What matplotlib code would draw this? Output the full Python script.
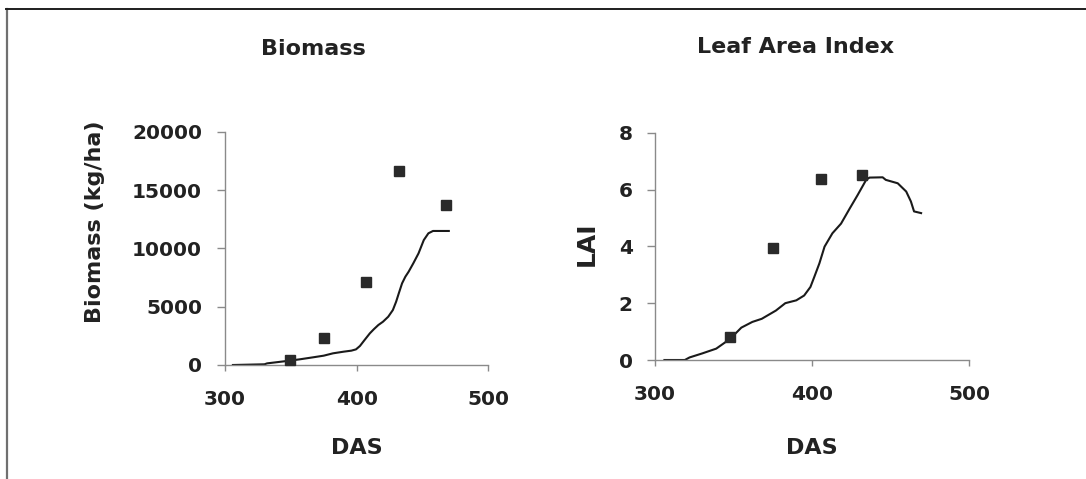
import matplotlib
matplotlib.use("Agg")
import matplotlib.pyplot as plt
from matplotlib.lines import Line2D

# ---- data ----
bio_sim_das = [306, 330, 332, 349, 357, 367, 375, 382, 390, 396, 399.5, 402.5, 406, 410,
               413, 416.5, 420, 424, 427.5, 430, 432, 434.5, 437, 439.5, 443, 447,
               451, 454.5, 458, 470]
bio_sim_val = [0, 60, 140, 370, 490, 660, 800, 1000, 1140, 1230, 1340, 1630, 2140, 2710,
               3060, 3430, 3710, 4140, 4710, 5430, 6140, 7000, 7570, 8000, 8710, 9570,
               10710, 11290, 11490, 11490]
bio_obs_das = [349, 375, 407, 432, 468]
bio_obs_val = [430, 2300, 7100, 16600, 13700]

lai_sim_das = [306, 319, 322, 330, 339, 348, 355, 362, 368, 377, 383, 390, 395, 399,
               401.5, 404.7, 408, 413, 418.5, 424, 429, 434.5, 436.6, 445, 447, 454.6,
               460, 463, 465, 469.5]
lai_sim_val = [0, 0, 0.09, 0.23, 0.40, 0.75, 1.14, 1.34, 1.45, 1.74, 2.0, 2.1, 2.27, 2.57,
               2.93, 3.4, 3.99, 4.46, 4.8, 5.33, 5.8, 6.34, 6.42, 6.43, 6.34, 6.22,
               5.93, 5.58, 5.23, 5.17]
lai_obs_das = [348, 375, 406, 432]
lai_obs_val = [0.80, 3.95, 6.36, 6.51]

x_ticks = [300, 400, 500]
bio_ticks = [0, 5000, 10000, 15000, 20000]
lai_ticks = [0, 2, 4, 6, 8]

TXT = "#222222"
SPN = "#8a8a8a"
plt.rcParams['font.family'] = ['DejaVu Sans']
plt.rcParams['font.weight'] = 'bold'

fig = plt.figure(figsize=(10.86, 4.79), dpi=100)
fig.patch.set_facecolor("white")

ax1 = fig.add_axes([0.20718, 0.23800, 0.24245, 0.48706])
ax2 = fig.add_axes([0.60313, 0.24843, 0.28913, 0.47453])


def style(ax, yticks, ylim, tlen_y):
    ax.set_xlim(300, 500)
    ax.set_ylim(*ylim)
    ax.set_xticks(x_ticks)
    ax.set_yticks(yticks)
    for s in ("top", "right"):
        ax.spines[s].set_visible(False)
    for s in ("left", "bottom"):
        ax.spines[s].set_color(SPN)
        ax.spines[s].set_linewidth(1.0)
    ax.tick_params(axis="y", direction="out", length=tlen_y, width=1.0, color=SPN,
                   pad=10.5, labelsize=14.5, labelcolor=TXT)
    ax.tick_params(axis="x", direction="out", length=4, width=1.0, color=SPN,
                   pad=14, labelsize=14.5, labelcolor=TXT)
    for lab in ax.get_xticklabels() + ax.get_yticklabels():
        lab.set_fontweight("bold")


# left: biomass
ax1.plot(bio_sim_das, bio_sim_val, color="#1a1a1a", lw=1.5, zorder=2)
ax1.plot(bio_obs_das, bio_obs_val, ls="none", marker="s", ms=7.5,
         color="#2a2a2a", mec="#2a2a2a", zorder=3, clip_on=False)
style(ax1, bio_ticks, (0, 20000), 6)
ax1.set_ylabel("Biomass (kg/ha)", fontsize=16, fontweight="bold", color=TXT,
               va="center")
ax1.yaxis.set_label_coords(-0.494, 0.613)
ax1.set_xlabel("DAS", fontsize=16, fontweight="bold", color=TXT, va="center")
ax1.xaxis.set_label_coords(0.5, -0.356)
ax1.set_title("Biomass", fontsize=16, fontweight="bold", color=TXT,
              x=0.334, y=1.32, va="center")

# right: LAI
ax2.plot(lai_sim_das, lai_sim_val, color="#1a1a1a", lw=1.5, zorder=2)
ax2.plot(lai_obs_das, lai_obs_val, ls="none", marker="s", ms=7.5,
         color="#2a2a2a", mec="#2a2a2a", zorder=3, clip_on=False)
style(ax2, lai_ticks, (0, 8), 5.5)
ax2.set_ylabel("LAI", fontsize=18, fontweight="bold", color=TXT, va="center")
ax2.yaxis.set_label_coords(-0.218, 0.511)
ax2.set_xlabel("DAS", fontsize=16, fontweight="bold", color=TXT, va="center")
ax2.xaxis.set_label_coords(0.5, -0.387)
ax2.set_title("Leaf Area Index", fontsize=16, fontweight="bold", color=TXT,
              x=0.449, y=1.342, va="center")

# frame lines (left and top) as in the scanned figure
W, H = 1086.0, 479.0
fig.add_artist(Line2D([7 / W, 7 / W], [0, 1 - 9 / H], transform=fig.transFigure,
                      color="#707070", lw=1.6))
fig.add_artist(Line2D([6 / W, 1], [1 - 9 / H, 1 - 9 / H], transform=fig.transFigure,
                      color="#1e1e1e", lw=1.4))

fig.savefig("out.png", dpi=100, facecolor="white")
